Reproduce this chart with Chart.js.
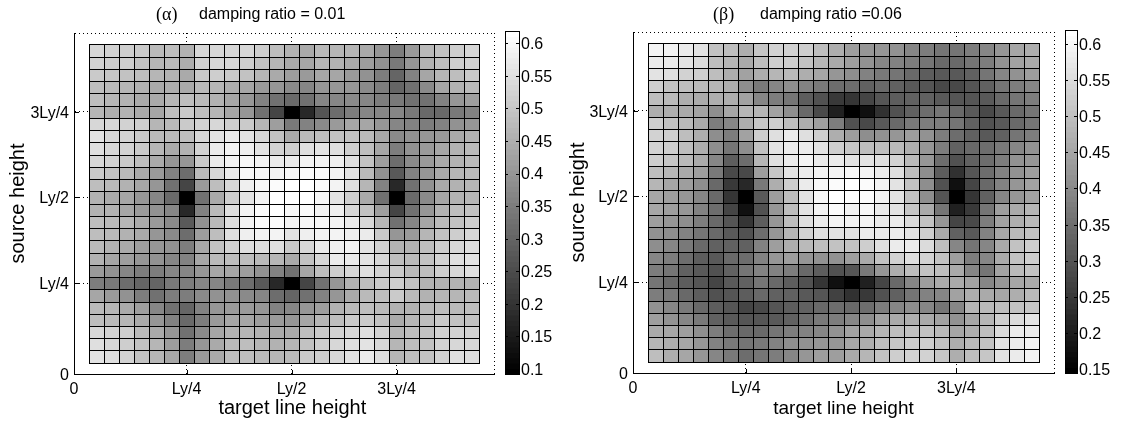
<!DOCTYPE html>
<html>
<head>
<meta charset="utf-8">
<title>damping ratio</title>
<script src="https://cdn.jsdelivr.net/npm/chart.js@4/dist/chart.umd.min.js"></script>
<style>
body { margin: 0; background: #fff; width: 1124px; height: 426px; overflow: hidden; position: relative; }
canvas { position: absolute; top: 0; }
.label { position: absolute; top: 3px; line-height: 22px; color: #000; white-space: nowrap; font: 16px/22px "Liberation Sans", sans-serif; }
.greek { font: 18px/22px "Liberation Serif", serif; }
</style>
</head>
<body>
<canvas id="alphaMap" width="500" height="426" style="left:0"></canvas>
<canvas id="alphaBar" width="70" height="426" style="left:500px"></canvas>
<canvas id="betaMap" width="500" height="426" style="left:560px"></canvas>
<canvas id="betaBar" width="64" height="426" style="left:1060px"></canvas>
<div class="label greek" style="left:156px">(α)</div>
<div class="label" style="left:199px">damping ratio = 0.01</div>
<div class="label greek" style="left:713px">(β)</div>
<div class="label" style="left:760px">damping ratio =0.06</div>
<script>
// axis ticks
const axisLabels = ['0', 'Ly/4', 'Ly/2', '3Ly/4', ''];
const xTickValues = [0, 7.5, 14.5, 21.5, 28];
const yTickValues = [0.08, 7.5, 14.5, 21.5, 27.93];
const alphaBarTicks = [0.1, 0.15, 0.2, 0.25, 0.3, 0.35, 0.4, 0.45, 0.5, 0.55, 0.6];
const betaBarTicks = [0.15, 0.2, 0.25, 0.3, 0.35, 0.4, 0.45, 0.5, 0.55, 0.6];

// values, first row = top of the panel
const alphaValues = [
  [.535,.525,.52,.505,.475,.485,.455,.535,.535,.535,.535,.515,.485,.455,.445,.475,.465,.465,.445,.40,.35,.41,.475,.495,.515,.535],
  [.525,.52,.515,.495,.465,.475,.45,.525,.535,.53,.515,.495,.465,.445,.435,.465,.455,.445,.42,.39,.34,.40,.455,.485,.515,.525],
  [.505,.50,.495,.485,.465,.46,.445,.505,.515,.505,.49,.465,.445,.42,.41,.435,.435,.41,.39,.35,.30,.36,.435,.465,.485,.505],
  [.485,.475,.465,.455,.445,.45,.445,.475,.465,.45,.435,.41,.40,.38,.37,.40,.40,.40,.38,.35,.30,.33,.38,.435,.455,.475],
  [.485,.465,.455,.445,.445,.465,.485,.475,.455,.435,.40,.36,.33,.31,.33,.37,.37,.38,.37,.35,.34,.33,.33,.36,.40,.42],
  [.465,.45,.455,.445,.435,.485,.505,.485,.465,.435,.40,.33,.235,.09,.18,.265,.32,.35,.37,.37,.37,.34,.31,.31,.34,.36],
  [.535,.535,.525,.515,.465,.475,.505,.525,.535,.515,.505,.465,.42,.34,.36,.38,.41,.435,.435,.40,.37,.36,.35,.36,.39,.40],
  [.56,.535,.525,.505,.475,.475,.485,.535,.56,.57,.56,.535,.495,.445,.475,.485,.495,.495,.475,.435,.38,.39,.40,.41,.445,.455],
  [.55,.535,.525,.505,.465,.445,.455,.525,.57,.59,.58,.56,.525,.515,.55,.56,.55,.515,.485,.435,.35,.39,.41,.435,.455,.475],
  [.535,.525,.505,.485,.445,.40,.40,.505,.57,.59,.60,.59,.57,.57,.59,.59,.58,.55,.495,.42,.32,.38,.41,.445,.455,.475],
  [.505,.495,.475,.445,.41,.36,.32,.475,.535,.57,.60,.60,.59,.60,.61,.61,.59,.56,.475,.39,.275,.36,.40,.445,.465,.475],
  [.485,.475,.455,.435,.40,.33,.235,.41,.485,.535,.58,.60,.61,.62,.62,.61,.59,.55,.465,.36,.18,.33,.39,.445,.455,.465],
  [.455,.445,.435,.40,.37,.31,.09,.33,.445,.515,.56,.59,.62,.62,.62,.60,.56,.515,.445,.33,.09,.31,.38,.435,.455,.465],
  [.455,.455,.435,.41,.39,.37,.18,.36,.475,.55,.59,.61,.62,.60,.61,.59,.58,.535,.495,.42,.235,.33,.40,.455,.485,.495],
  [.485,.475,.465,.445,.41,.38,.275,.39,.475,.55,.59,.61,.61,.59,.60,.60,.59,.57,.535,.465,.33,.37,.435,.475,.495,.515],
  [.485,.475,.455,.445,.40,.38,.32,.42,.485,.55,.58,.59,.59,.56,.58,.59,.59,.58,.57,.505,.40,.41,.465,.495,.515,.535],
  [.475,.455,.445,.42,.40,.39,.35,.435,.495,.525,.55,.55,.55,.505,.535,.57,.58,.59,.56,.525,.455,.455,.485,.515,.535,.55],
  [.455,.435,.42,.40,.39,.37,.36,.435,.475,.485,.485,.475,.465,.445,.495,.535,.57,.57,.56,.535,.485,.475,.495,.525,.55,.56],
  [.41,.39,.37,.35,.35,.37,.37,.40,.435,.435,.42,.39,.36,.33,.435,.485,.515,.535,.55,.525,.505,.475,.485,.515,.535,.55],
  [.35,.34,.32,.30,.30,.34,.35,.37,.37,.34,.32,.275,.18,.09,.235,.33,.40,.455,.485,.505,.515,.495,.455,.455,.455,.455],
  [.435,.41,.39,.35,.33,.35,.35,.38,.39,.39,.38,.37,.32,.30,.33,.36,.40,.445,.475,.485,.505,.475,.455,.465,.465,.475],
  [.475,.465,.445,.42,.37,.33,.30,.36,.40,.41,.41,.40,.36,.37,.40,.42,.455,.475,.485,.475,.455,.455,.475,.485,.475,.485],
  [.485,.475,.465,.445,.40,.36,.31,.35,.41,.435,.435,.42,.41,.40,.435,.465,.485,.505,.505,.495,.445,.465,.485,.505,.495,.495],
  [.535,.525,.515,.475,.445,.40,.33,.38,.435,.455,.465,.455,.445,.445,.485,.505,.525,.535,.55,.525,.465,.485,.495,.525,.525,.525],
  [.55,.535,.515,.495,.465,.42,.35,.40,.445,.475,.485,.465,.455,.465,.495,.515,.535,.55,.56,.535,.465,.485,.495,.525,.535,.535],
  [.56,.55,.525,.495,.465,.435,.35,.41,.445,.485,.485,.475,.465,.475,.505,.515,.535,.56,.57,.55,.465,.485,.495,.525,.55,.55]
];

const betaValues = [
  [.59,.59,.58,.565,.505,.50,.47,.515,.535,.535,.525,.50,.47,.435,.425,.425,.415,.395,.38,.36,.36,.38,.395,.425,.45,.47],
  [.58,.575,.565,.545,.50,.48,.46,.50,.525,.525,.505,.48,.46,.435,.415,.395,.385,.38,.36,.34,.34,.36,.38,.415,.445,.46],
  [.565,.555,.535,.525,.50,.47,.445,.47,.48,.49,.47,.45,.425,.405,.385,.37,.36,.34,.32,.315,.315,.33,.36,.395,.415,.435],
  [.525,.505,.50,.49,.48,.47,.405,.37,.395,.405,.385,.37,.35,.35,.33,.34,.33,.315,.305,.285,.285,.305,.33,.36,.38,.395],
  [.50,.49,.47,.46,.47,.47,.445,.395,.38,.36,.32,.295,.255,.245,.275,.305,.32,.33,.33,.315,.305,.305,.315,.34,.36,.38],
  [.47,.47,.46,.445,.405,.45,.48,.48,.445,.405,.34,.285,.21,.145,.18,.24,.295,.33,.35,.36,.34,.315,.285,.315,.34,.36],
  [.525,.505,.49,.46,.38,.395,.47,.515,.525,.50,.47,.435,.38,.295,.285,.315,.34,.37,.38,.38,.36,.33,.295,.315,.34,.36],
  [.535,.525,.50,.47,.405,.38,.445,.525,.555,.575,.555,.525,.47,.435,.405,.415,.425,.435,.415,.38,.35,.33,.315,.33,.36,.38],
  [.535,.525,.50,.47,.405,.36,.405,.505,.565,.58,.58,.565,.525,.515,.50,.50,.49,.47,.425,.38,.33,.34,.35,.37,.395,.415],
  [.525,.515,.49,.46,.395,.32,.35,.48,.555,.58,.59,.58,.575,.565,.565,.555,.535,.49,.425,.35,.295,.33,.35,.38,.415,.425],
  [.50,.48,.46,.435,.37,.285,.285,.435,.515,.565,.58,.59,.59,.60,.59,.58,.555,.50,.405,.32,.24,.305,.35,.385,.415,.435],
  [.48,.45,.435,.405,.34,.255,.22,.37,.47,.525,.58,.60,.61,.62,.61,.59,.565,.505,.405,.295,.18,.275,.34,.385,.425,.445],
  [.45,.435,.425,.395,.34,.245,.145,.315,.435,.50,.565,.60,.62,.62,.61,.59,.565,.505,.405,.305,.145,.245,.33,.395,.425,.445],
  [.45,.435,.425,.385,.35,.275,.18,.295,.425,.50,.565,.59,.61,.59,.60,.58,.565,.515,.46,.36,.21,.255,.36,.435,.46,.48],
  [.435,.425,.405,.38,.34,.305,.245,.32,.425,.50,.555,.58,.59,.59,.59,.58,.575,.545,.505,.425,.275,.285,.38,.445,.47,.49],
  [.415,.405,.385,.36,.34,.315,.295,.35,.425,.48,.535,.555,.565,.565,.575,.575,.58,.565,.525,.46,.33,.315,.385,.45,.49,.505],
  [.405,.395,.37,.34,.33,.33,.33,.385,.435,.47,.49,.50,.505,.505,.525,.555,.575,.575,.545,.50,.395,.36,.395,.46,.505,.525],
  [.395,.38,.35,.32,.315,.34,.35,.385,.425,.435,.425,.415,.415,.435,.46,.505,.535,.555,.535,.505,.435,.38,.395,.46,.505,.525],
  [.38,.36,.33,.315,.295,.33,.36,.385,.385,.38,.34,.32,.295,.305,.37,.425,.47,.50,.505,.50,.46,.395,.36,.445,.49,.505],
  [.36,.34,.32,.305,.275,.315,.33,.36,.34,.32,.295,.245,.18,.145,.21,.275,.34,.395,.435,.46,.46,.445,.395,.425,.45,.46],
  [.38,.37,.34,.32,.295,.305,.32,.34,.33,.33,.315,.305,.265,.24,.255,.295,.33,.36,.385,.395,.445,.47,.46,.45,.47,.49],
  [.415,.395,.37,.34,.32,.305,.275,.285,.305,.32,.33,.34,.35,.34,.35,.38,.395,.405,.395,.36,.395,.48,.49,.50,.505,.515],
  [.435,.415,.395,.37,.33,.315,.305,.305,.315,.33,.35,.37,.38,.395,.405,.445,.46,.47,.46,.445,.415,.45,.48,.525,.545,.565],
  [.46,.45,.435,.405,.38,.35,.34,.34,.36,.38,.385,.395,.415,.445,.46,.48,.50,.505,.505,.49,.45,.47,.50,.545,.575,.58],
  [.48,.47,.45,.425,.385,.37,.36,.37,.385,.405,.415,.425,.425,.45,.47,.50,.515,.525,.525,.505,.47,.49,.505,.565,.58,.59],
  [.50,.47,.45,.425,.395,.37,.35,.36,.38,.395,.425,.435,.435,.46,.48,.505,.525,.535,.535,.515,.47,.50,.515,.565,.58,.59]
];

const fontFamily = '"Liberation Sans", sans-serif';
const levels = 64;

// gray colormap with 64 steps, like the colorbar
function grayFor(value, vmin, vmax) {
    var level = Math.floor((value - vmin) / (vmax - vmin) * levels);
    level = Math.max(0, Math.min(levels - 1, level));
    var g = Math.round(level / (levels - 1) * 255);
    return 'rgb(' + g + ',' + g + ',' + g + ')';
}

// snap the cells to whole pixels, one pixel overlap so neighbours share one line
const snapCells = {
    id: 'snapCells',
    beforeDatasetsDraw(chart) {
        chart.getDatasetMeta(0).data.forEach(bar => {
            var left = Math.round(bar.x - bar.width / 2);
            var right = Math.round(bar.x + bar.width / 2) + 1;
            var top = Math.round(bar.y);
            var bottom = Math.round(bar.base) + 1;
            bar.x = (left + right) / 2;
            bar.width = right - left;
            bar.y = top;
            bar.base = bottom;
        });
    }
};

// short solid ticks inside the left and bottom axis lines
const innerTicks = {
    id: 'innerTicks',
    afterDraw(chart) {
        var ctx = chart.ctx, area = chart.chartArea;
        ctx.save();
        ctx.strokeStyle = '#000';
        ctx.lineWidth = 1;
        ctx.beginPath();
        xTickValues.slice(1, 4).forEach(v => {
            var x = Math.round(chart.scales.x.getPixelForValue(v)) + 0.5;
            ctx.moveTo(x, area.bottom);
            ctx.lineTo(x, area.bottom - 4);
        });
        yTickValues.slice(1, 4).forEach(v => {
            var y = Math.round(chart.scales.y.getPixelForValue(v)) + 0.5;
            ctx.moveTo(area.left, y);
            ctx.lineTo(area.left + 5, y);
        });
        ctx.stroke();
        ctx.restore();
    }
};

// frame of the colorbar and its ticks on both sides
const barFrame = {
    id: 'barFrame',
    afterDraw(chart) {
        var ctx = chart.ctx, area = chart.chartArea;
        ctx.save();
        ctx.strokeStyle = '#000';
        ctx.lineWidth = 1;
        ctx.beginPath();
        chart.scales.y.ticks.forEach(t => {
            var y = Math.round(chart.scales.y.getPixelForValue(t.value)) + 0.5;
            ctx.moveTo(area.left, y);
            ctx.lineTo(area.left + 3, y);
            ctx.moveTo(area.right, y);
            ctx.lineTo(area.right - 3, y);
        });
        ctx.stroke();
        ctx.strokeRect(Math.round(area.left) + 0.5, Math.round(area.top) + 0.5,
            Math.round(area.right - area.left), Math.round(area.bottom - area.top));
        ctx.restore();
    }
};

function makeHeatmap(id, rows, vmin, vmax, area, xTitle) {
    var cells = [], colors = [];
    rows.forEach((row, r) => {
        row.forEach((value, c) => {
            cells.push({ x: c + 1.5, y: [26 - r, 27 - r] });
            colors.push(grayFor(value, vmin, vmax));
        });
    });

    var gridStyle = { color: '#000', lineWidth: 1, drawTicks: false, offset: false };
    var borderStyle = { color: '#000', width: 1, dash: [1, 3] };

    return new Chart(document.getElementById(id), {
        type: 'bar',
        data: {
            datasets: [{
                data: cells,
                backgroundColor: colors,
                borderColor: '#000',
                borderWidth: 1,
                borderSkipped: false,
                inflateAmount: 0,
                barPercentage: 1,
                categoryPercentage: 1
            }]
        },
        options: {
            responsive: false,
            animation: false,
            devicePixelRatio: 1,
            layout: { padding: { top: area.top, right: 5, left: 0, bottom: 0 } },
            plugins: { legend: { display: false }, tooltip: { enabled: false } },
            scales: {
                x: {
                    type: 'linear',
                    min: xTickValues[0],
                    max: xTickValues[4],
                    offset: false,
                    grid: gridStyle,
                    border: borderStyle,
                    afterBuildTicks: axis => { axis.ticks = xTickValues.map(v => ({ value: v })); },
                    afterFit: axis => { axis.height = 426 - area.bottom; },
                    ticks: {
                        autoSkip: false,
                        maxRotation: 0,
                        padding: 6,
                        color: '#000',
                        font: { family: fontFamily, size: 16 },
                        callback: (v, i) => axisLabels[i]
                    },
                    title: {
                        display: true,
                        text: xTitle.text,
                        color: '#000',
                        font: { family: fontFamily, size: xTitle.size },
                        padding: { top: 0, bottom: xTitle.pad }
                    }
                },
                y: {
                    type: 'linear',
                    min: yTickValues[0],
                    max: yTickValues[4],
                    grid: gridStyle,
                    border: borderStyle,
                    afterBuildTicks: axis => { axis.ticks = yTickValues.map(v => ({ value: v })); },
                    afterFit: axis => { axis.width = area.left; },
                    ticks: {
                        autoSkip: false,
                        padding: 5,
                        labelOffset: 1.5,
                        color: '#000',
                        font: { family: fontFamily, size: 16 },
                        callback: (v, i) => axisLabels[i]
                    },
                    title: {
                        display: true,
                        text: 'source height',
                        color: '#000',
                        font: { family: fontFamily, size: 20 },
                        padding: { top: 6, bottom: 0 }
                    }
                }
            }
        },
        plugins: [snapCells, innerTicks]
    });
}

function makeColorbar(id, tickValues, vmin, vmax, area, canvasWidth) {
    var bands = [], colors = [];
    for (var i = 0; i < levels; i++) {
        bands.push({ x: '', y: [vmin + (vmax - vmin) * i / levels, vmin + (vmax - vmin) * (i + 1) / levels] });
        colors.push(grayFor(vmin + (vmax - vmin) * (i + 0.5) / levels, vmin, vmax));
    }

    return new Chart(document.getElementById(id), {
        type: 'bar',
        data: {
            labels: [''],
            datasets: [{
                data: bands,
                backgroundColor: colors,
                borderWidth: 0,
                inflateAmount: 0.5,
                barPercentage: 1,
                categoryPercentage: 1
            }]
        },
        options: {
            responsive: false,
            animation: false,
            devicePixelRatio: 1,
            layout: { padding: { top: area.top, bottom: 426 - area.bottom, left: area.left, right: 0 } },
            plugins: { legend: { display: false }, tooltip: { enabled: false } },
            scales: {
                x: { display: false },
                y: {
                    type: 'linear',
                    position: 'right',
                    min: vmin,
                    max: vmax,
                    grid: { display: false, drawTicks: false },
                    border: { display: false },
                    afterBuildTicks: axis => { axis.ticks = tickValues.map(v => ({ value: v })); },
                    afterFit: axis => { axis.width = canvasWidth - area.right; },
                    ticks: {
                        autoSkip: false,
                        padding: 2,
                        labelOffset: 1.5,
                        color: '#000',
                        font: { family: fontFamily, size: 16 },
                        callback: v => String(v)
                    }
                }
            }
        },
        plugins: [barFrame]
    });
}

// the left x title sits under Ly/2, so it gets a few leading spaces
makeHeatmap('alphaMap', alphaValues, 0.092, 0.619, { left: 74, top: 33, bottom: 374 }, { text: '   target line height', size: 20, pad: 6 });
makeColorbar('alphaBar', alphaBarTicks, 0.092, 0.619, { left: 5, right: 19, top: 31, bottom: 374 }, 70);
makeHeatmap('betaMap', betaValues, 0.145, 0.619, { left: 73, top: 32, bottom: 373 }, { text: 'target line height', size: 19, pad: 6 });
makeColorbar('betaBar', betaBarTicks, 0.145, 0.619, { left: 5, right: 17, top: 30, bottom: 373 }, 64);
</script>
</body>
</html>
